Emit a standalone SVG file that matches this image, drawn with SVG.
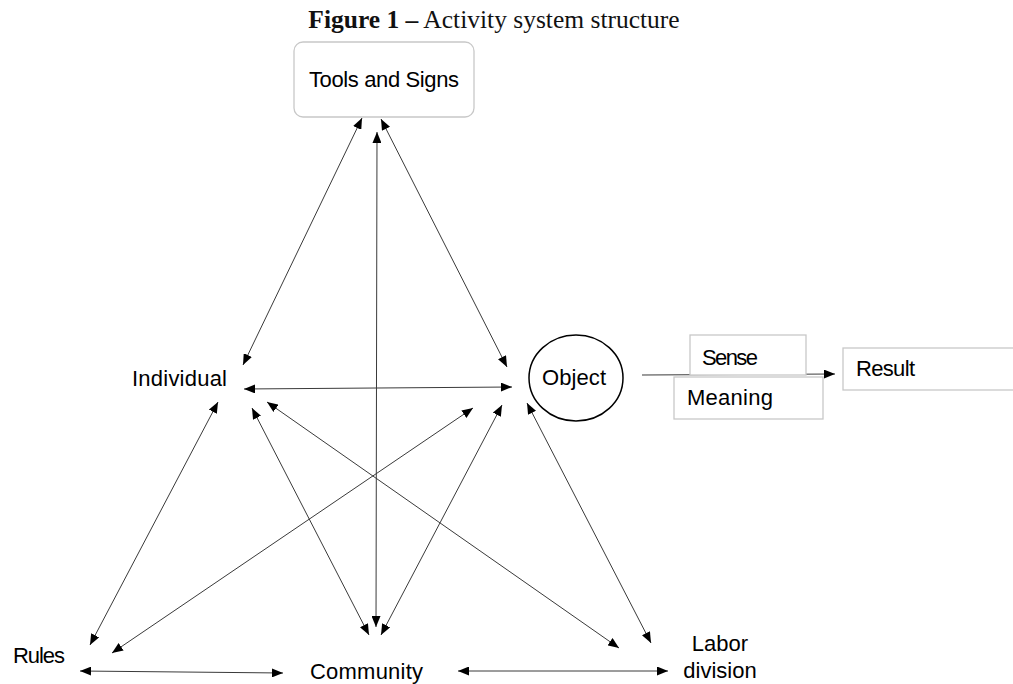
<svg xmlns="http://www.w3.org/2000/svg" width="1013" height="684" viewBox="0 0 1013 684">
<style>
.lbl{font-family:"Liberation Sans",Arial,sans-serif;font-size:22px;fill:#000}
.ttl{font-family:"Liberation Serif","Times New Roman",serif;font-size:25.5px;fill:#111}
.box{fill:#fff;stroke:#c8c8c8;stroke-width:1.3}
.ln{stroke:#3a3a3a;stroke-width:1;fill:none;marker-start:url(#ah);marker-end:url(#ah)}
.one{stroke:#3a3a3a;stroke-width:1;fill:none;marker-end:url(#ah)}
</style>
<defs>
<marker id="ah" markerUnits="userSpaceOnUse" markerWidth="11" markerHeight="9" refX="11" refY="4.5" orient="auto-start-reverse" viewBox="0 0 11 9">
<path d="M0,0 L11,4.5 L0,9 z" fill="#000"/>
</marker>
</defs>
<rect width="1013" height="684" fill="#fff"/>
<text class="ttl" x="494" y="28" text-anchor="middle"><tspan font-weight="bold">Figure 1 –</tspan> Activity system structure</text>

<g id="connectors">
<line class="ln" x1="362" y1="118" x2="243" y2="365"/>
<line class="ln" x1="381" y1="119" x2="507" y2="367"/>
<line class="ln" x1="377" y1="132" x2="376" y2="627"/>
<line class="ln" x1="244" y1="389" x2="512" y2="387"/>
<line class="ln" x1="218" y1="402" x2="90" y2="645"/>
<line class="ln" x1="252" y1="408" x2="369" y2="635"/>
<line class="ln" x1="267" y1="402" x2="619" y2="648"/>
<line class="ln" x1="473" y1="408" x2="112" y2="653"/>
<line class="ln" x1="502" y1="405" x2="381" y2="635"/>
<line class="ln" x1="527" y1="403" x2="651" y2="643"/>
<line class="ln" x1="80" y1="671" x2="283" y2="673"/>
<line class="ln" x1="458" y1="671" x2="668" y2="671"/>
<line class="one" x1="642" y1="375" x2="835" y2="374"/>
</g>

<g id="tools">
<rect class="box" x="294" y="42" width="180" height="75" rx="9"/>
<text class="lbl" x="384" y="87" text-anchor="middle" textLength="150">Tools and Signs</text>
</g>
<g id="individual">
<text class="lbl" x="132" y="386" textLength="95">Individual</text>
</g>
<g id="object">
<ellipse cx="576" cy="378" rx="47" ry="43" fill="#fff" stroke="#000" stroke-width="1.5"/>
<text class="lbl" x="574" y="385" text-anchor="middle" textLength="64">Object</text>
</g>
<g id="sense">
<rect class="box" x="690" y="335" width="116" height="40"/>
<text class="lbl" x="702" y="365" textLength="56">Sense</text>
</g>
<g id="meaning">
<rect class="box" x="674" y="377" width="149" height="42"/>
<text class="lbl" x="687" y="405" textLength="86">Meaning</text>
</g>
<g id="result">
<rect class="box" x="843" y="348" width="185" height="42"/>
<text class="lbl" x="856" y="376" textLength="59">Result</text>
</g>
<g id="rules">
<text class="lbl" x="13" y="663" textLength="52">Rules</text>
</g>
<g id="community">
<text class="lbl" x="310" y="679" textLength="113">Community</text>
</g>
<g id="labor">
<text class="lbl" x="720" y="651" text-anchor="middle">Labor</text>
<text class="lbl" x="720" y="678" text-anchor="middle">division</text>
</g>
</svg>
